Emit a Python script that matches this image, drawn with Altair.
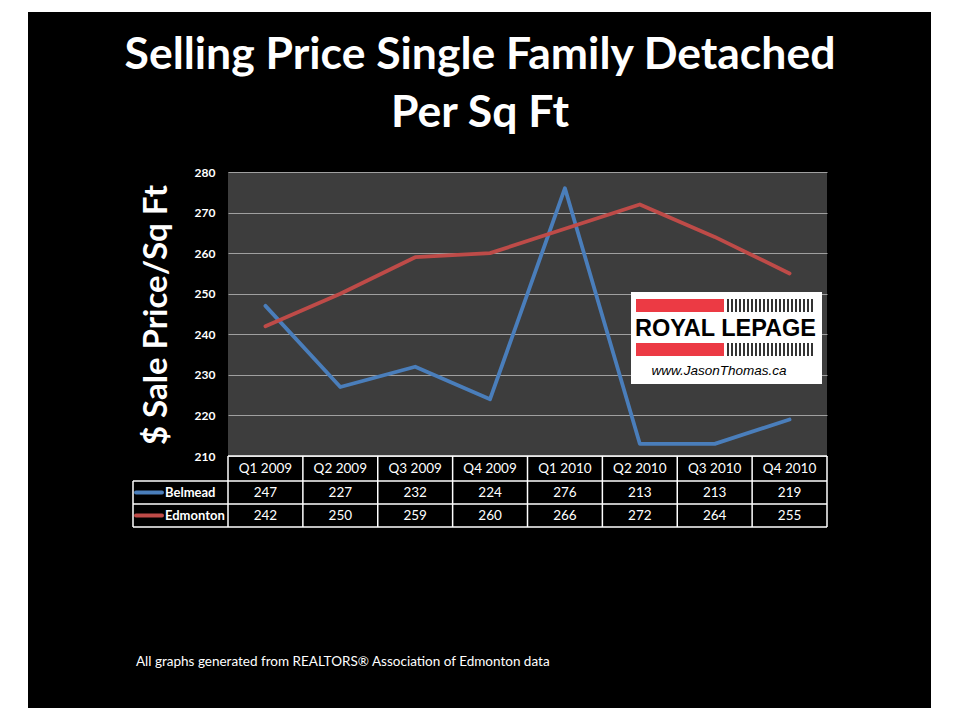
import altair as alt
import pandas as pd
import numpy as np

quarters = ["Q1 2009", "Q2 2009", "Q3 2009", "Q4 2009", "Q1 2010", "Q2 2010", "Q3 2010", "Q4 2010"]
belmead = [247, 227, 232, 224, 276, 213, 213, 219]
edmonton = [242, 250, 259, 260, 266, 272, 264, 255]
series_names = ["Belmead", "Edmonton"]
y_ticks = [210, 220, 230, 240, 250, 260, 270, 280]

title_lines = ["Selling Price Single Family Detached", "Per Sq Ft"]
y_title = "$ Sale  Price/Sq Ft"
footnote = "All graphs generated from REALTORS\u00ae Association of Edmonton data"

BLUE = "#4a7ebb"
RED = "#be4b48"
FONT = "Lato"

W, H = 599, 284

df = pd.DataFrame({
    "quarter": quarters * 2,
    "series": ["Belmead"] * len(quarters) + ["Edmonton"] * len(quarters),
    "value": belmead + edmonton,
})
qdf = pd.DataFrame({"quarter": quarters})
one = pd.DataFrame({"a": [0]})

xscale = alt.Scale(type="band", domain=quarters, paddingInner=0, paddingOuter=0)
xc = alt.X("quarter:N", scale=xscale, axis=None, bandPosition=0.5)
xb = alt.X("quarter:N", scale=xscale, axis=None, bandPosition=0)
color = alt.Color("series:N", scale=alt.Scale(domain=series_names, range=[BLUE, RED]), legend=None)

lines = alt.Chart(df).mark_line(strokeWidth=3.8, strokeJoin="round", strokeCap="round").encode(
    x=xc,
    y=alt.Y("value:Q", scale=alt.Scale(domain=[210, 280], nice=False, zero=False),
            axis=alt.Axis(values=y_ticks, title=None, domain=False, ticks=False,
                          labelColor="white", labelFont=FONT, labelFontWeight="bold",
                          labelFontSize=12, labelPadding=13, gridColor="#a0a0a0",
                          gridWidth=1, gridOpacity=1)),
    color=color,
    order=alt.Order("qi:Q"),
).transform_calculate(qi="indexof(" + str(quarters) + ", datum.quarter)")

# table header
header = alt.Chart(qdf).mark_text(font=FONT, fontSize=13.5, color="white").encode(
    x=xc, y=alt.value(296.5), text="quarter:N")

row_y = {"Belmead": 320.5, "Edmonton": 343.5}
cells = []
for s in series_names:
    cells.append(
        alt.Chart(df).transform_filter(alt.datum.series == s).mark_text(
            font=FONT, fontSize=13.5, color="white").encode(
            x=xc, y=alt.value(row_y[s]), text="value:Q"))
    cells.append(
        alt.Chart(pd.DataFrame({"series": [s]})).mark_rule(strokeWidth=4, strokeCap="round").encode(
            x=alt.value(-92), x2=alt.value(-66), y=alt.value(row_y[s]), color=color))
    cells.append(
        alt.Chart(pd.DataFrame({"series": [s]})).mark_text(
            font=FONT, fontSize=13, fontWeight="bold", color="white", align="left").encode(
            x=alt.value(-63), y=alt.value(row_y[s]), text="series:N"))

# table grid
vsep = alt.Chart(qdf).mark_rule(color="white", strokeWidth=1.5).encode(
    x=xb, y=alt.value(284), y2=alt.value(355))
rules = [vsep]
for (x1, x2, y) in [(0, W, 284), (-95, W, 309), (-95, W, 332), (-95, W, 355)]:
    rules.append(alt.Chart(one).mark_rule(color="white", strokeWidth=1.5).encode(
        x=alt.value(x1), x2=alt.value(x2), y=alt.value(y)))
for (x, y1, y2) in [(W, 284, 355), (-95, 309, 355)]:
    rules.append(alt.Chart(one).mark_rule(color="white", strokeWidth=1.5).encode(
        x=alt.value(x), y=alt.value(y1), y2=alt.value(y2)))

# logo
logo = [
    alt.Chart(one).mark_rect(color="white").encode(
        x=alt.value(403), x2=alt.value(594), y=alt.value(120), y2=alt.value(212)),
    alt.Chart(one).mark_rect(color="#ec3a44").encode(
        x=alt.value(408), x2=alt.value(496), y=alt.value(127), y2=alt.value(140)),
    alt.Chart(one).mark_rect(color="#ec3a44").encode(
        x=alt.value(408), x2=alt.value(496), y=alt.value(171), y2=alt.value(184)),
    alt.Chart(one).mark_text(font="Liberation Sans", fontWeight="bold", fontSize=23.5,
                             color="black").encode(
        x=alt.value(497.5), y=alt.value(157), text=alt.value("ROYAL LEPAGE")),
    alt.Chart(one).mark_text(font="Liberation Sans", fontStyle="italic", fontSize=13.5,
                             color="black").encode(
        x=alt.value(491), y=alt.value(199), text=alt.value("www.JasonThomas.ca")),
]
bars = pd.DataFrame({"bx": np.arange(500, 588, 4)})
for (y1, y2) in [(127, 140), (171, 184)]:
    logo.append(alt.Chart(bars).mark_rule(color="black", strokeWidth=1.6).encode(
        x=alt.X("bx:Q", scale=None), y=alt.value(y1), y2=alt.value(y2)))

# texts
texts = [
    alt.Chart(one).mark_text(font=FONT, fontWeight="bold", fontSize=44.5, color="white").encode(
        x=alt.value(252), y=alt.value(-116), text=alt.value(title_lines[0])),
    alt.Chart(one).mark_text(font=FONT, fontWeight="bold", fontSize=44.5, color="white").encode(
        x=alt.value(252), y=alt.value(-58), text=alt.value(title_lines[1])),
    alt.Chart(one).mark_text(font=FONT, fontWeight="bold", fontSize=33, color="white", angle=270).encode(
        x=alt.value(-71), y=alt.value(143), text=alt.value(y_title)),
    alt.Chart(one).mark_text(font=FONT, fontSize=13.5, color="white", align="left").encode(
        x=alt.value(-92), y=alt.value(490), text=alt.value(footnote)),
]

# white page margins around the black slide
strips = []
for (x1, x2, y1, y2) in [(-220, -200, -164, 540), (703, 724, -164, 540),
                         (-220, 724, -164, -160), (-220, 724, 536, 540)]:
    strips.append(alt.Chart(one).mark_rect(color="white").encode(
        x=alt.value(x1), x2=alt.value(x2), y=alt.value(y1), y2=alt.value(y2)))

chart = alt.layer(lines, *logo, header, *cells, *rules, *texts, *strips).properties(
    width=W, height=H,
    autosize=alt.AutoSizeParams(type="none"),
    padding={"left": 220, "top": 164, "right": 125, "bottom": 256},
    background="black",
).configure_view(fill="#3d3d3d", stroke=None)

chart.save("out.html", embed_options={"renderer": "svg", "actions": False})
